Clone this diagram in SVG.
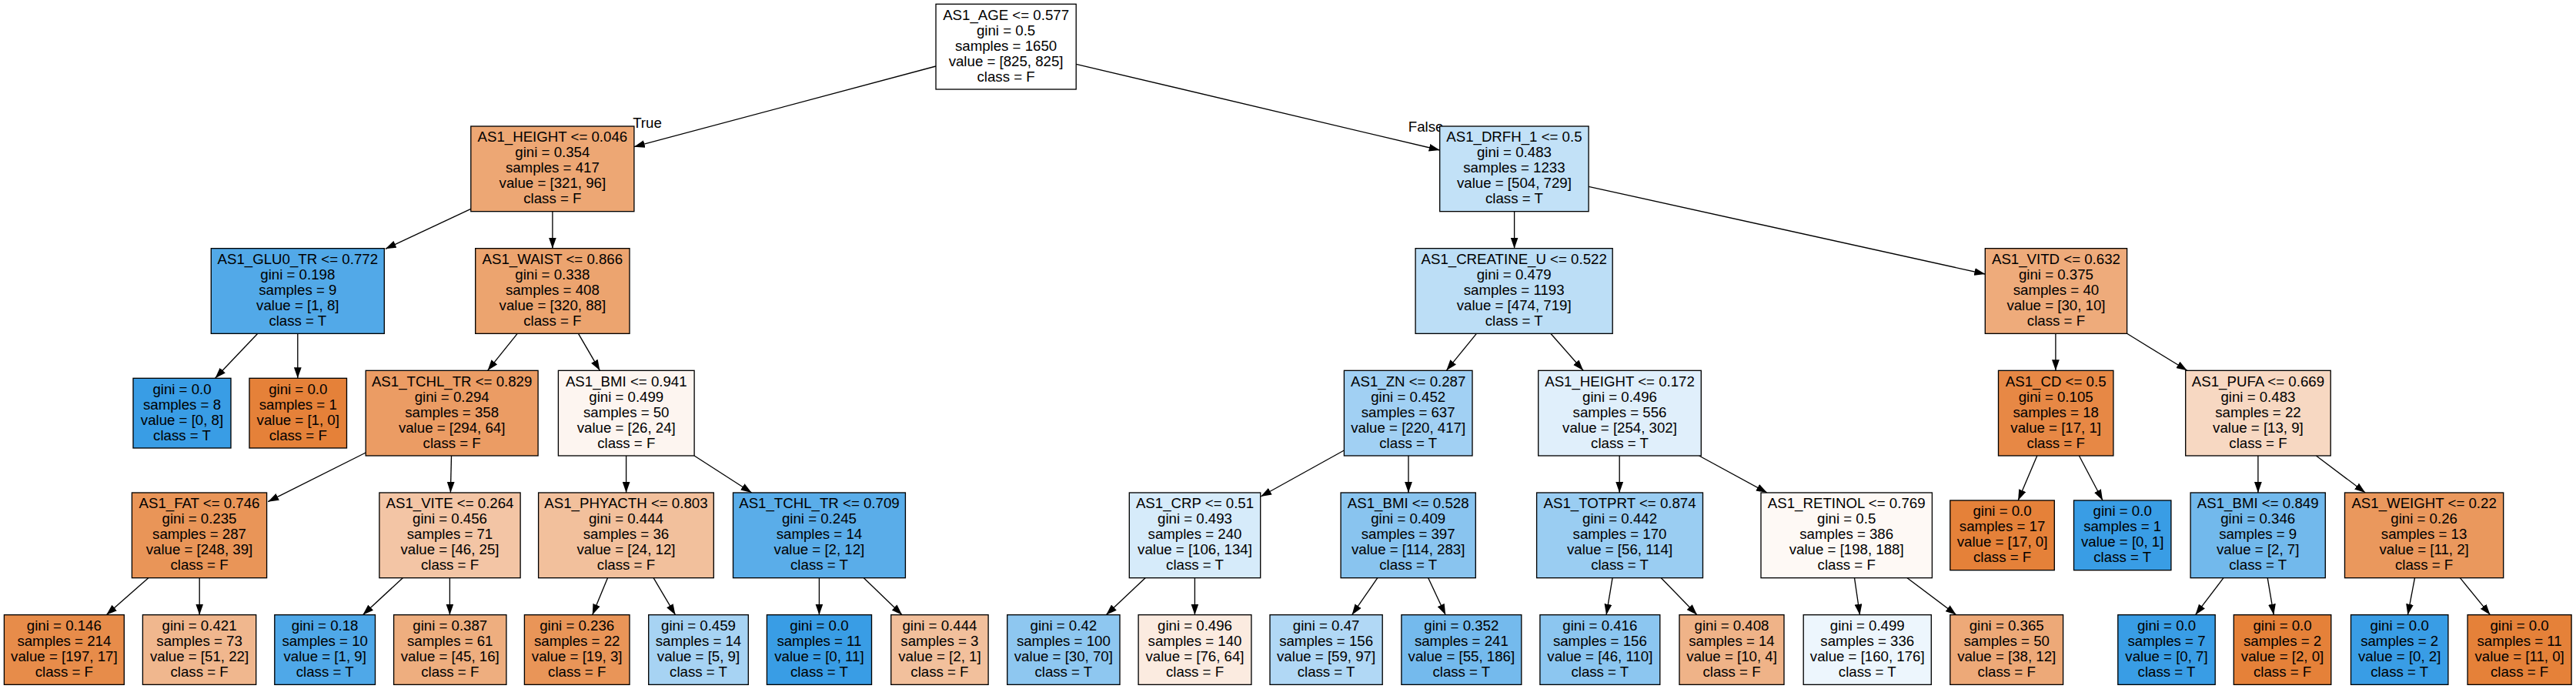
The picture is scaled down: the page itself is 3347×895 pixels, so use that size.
<svg xmlns="http://www.w3.org/2000/svg" width="3347" height="895" viewBox="0 0 3347 895">
<style>
.n rect{stroke:#000;stroke-width:1.33}
text{font-family:"Liberation Sans",Arial,Helvetica,sans-serif;font-size:18.67px;text-anchor:middle;fill:#000}
.e line{stroke:#000;stroke-width:1.33;marker-end:url(#a)}
</style>
<defs>
<marker id="a" markerUnits="userSpaceOnUse" markerWidth="14" markerHeight="10" viewBox="0 0 13.33 9.33" refX="13.33" refY="4.67" orient="auto"><path d="M0,0 L13.33,4.67 L0,9.33 z" fill="#000"/></marker>
</defs>
<rect width="3347" height="895" fill="#fff"/>
<g class="e" id="edges">
<line x1="1216" y1="86" x2="823.8" y2="190.7"/>
<line x1="1398.2" y1="83.3" x2="1870.7" y2="195"/>
<line x1="611.8" y1="271.3" x2="500.8" y2="323.3"/>
<line x1="717.9" y1="274.7" x2="717.9" y2="322.7"/>
<line x1="334.8" y1="433.3" x2="279.6" y2="491.3"/>
<line x1="386.8" y1="433.3" x2="386.8" y2="491.3"/>
<line x1="672.2" y1="433.3" x2="633.6" y2="481.3"/>
<line x1="751.5" y1="433.3" x2="779.4" y2="481.3"/>
<line x1="475.2" y1="588" x2="348.2" y2="651.7"/>
<line x1="586.5" y1="592" x2="585.4" y2="640"/>
<line x1="813.6" y1="592" x2="813.6" y2="640"/>
<line x1="902.1" y1="592" x2="976.6" y2="640"/>
<line x1="192.8" y1="750.7" x2="138.2" y2="798.7"/>
<line x1="259.2" y1="750.7" x2="259.2" y2="798.7"/>
<line x1="523.3" y1="750.7" x2="471.4" y2="798.7"/>
<line x1="584.4" y1="750.7" x2="584.4" y2="798.7"/>
<line x1="789.5" y1="750.7" x2="769.7" y2="798.7"/>
<line x1="849.1" y1="750.7" x2="877.5" y2="798.7"/>
<line x1="1064.4" y1="750.7" x2="1064.4" y2="798.7"/>
<line x1="1122.3" y1="750.7" x2="1172.1" y2="798.7"/>
<line x1="1967.6" y1="274.7" x2="1967.6" y2="322.7"/>
<line x1="2064.1" y1="242.3" x2="2579.3" y2="356"/>
<line x1="1918.4" y1="433.3" x2="1879.3" y2="481.3"/>
<line x1="2014.8" y1="433.3" x2="2057.1" y2="481.3"/>
<line x1="1746.4" y1="585" x2="1638.1" y2="645"/>
<line x1="1830" y1="592" x2="1830" y2="640"/>
<line x1="2104.2" y1="592" x2="2104.2" y2="640"/>
<line x1="2207.6" y1="592" x2="2296" y2="640"/>
<line x1="1488.1" y1="750.7" x2="1437.2" y2="798.7"/>
<line x1="1552.4" y1="750.7" x2="1552.4" y2="798.7"/>
<line x1="1789.8" y1="750.7" x2="1756.6" y2="798.7"/>
<line x1="1855.7" y1="750.7" x2="1878.2" y2="798.7"/>
<line x1="2095.1" y1="750.7" x2="2087.1" y2="798.7"/>
<line x1="2158.3" y1="750.7" x2="2205" y2="798.7"/>
<line x1="2409.5" y1="750.7" x2="2416.5" y2="798.7"/>
<line x1="2478" y1="750.7" x2="2541.8" y2="798.7"/>
<line x1="2670.9" y1="433.3" x2="2670.9" y2="481.3"/>
<line x1="2763.6" y1="433.3" x2="2841.8" y2="481.3"/>
<line x1="2646.8" y1="592" x2="2622.2" y2="650"/>
<line x1="2701.4" y1="592" x2="2732" y2="650"/>
<line x1="2933.9" y1="592" x2="2933.9" y2="640"/>
<line x1="3009.4" y1="592" x2="3073.2" y2="640"/>
<line x1="2889" y1="750.7" x2="2852.5" y2="798.7"/>
<line x1="2946.2" y1="750.7" x2="2954.3" y2="798.7"/>
<line x1="3137.5" y1="750.7" x2="3128.4" y2="798.7"/>
<line x1="3196.4" y1="750.7" x2="3235.5" y2="798.7"/>
<text x="841" y="166">True</text>
<text x="1852.6" y="171">False</text>
</g>
<g class="n" id="n0"><rect x="1216" y="5.33" width="182.2" height="110.67" fill="#ffffff"/><text x="1307.1" y="25.6"><tspan x="1307.1">AS1_AGE &lt;= 0.577</tspan><tspan x="1307.1" dy="20">gini = 0.5</tspan><tspan x="1307.1" dy="20">samples = 1650</tspan><tspan x="1307.1" dy="20">value = [825, 825]</tspan><tspan x="1307.1" dy="20">class = F</tspan></text></g>
<g class="n" id="n1"><rect x="611.8" y="164" width="212.1" height="110.67" fill="#eda774"/><text x="717.85" y="184.27"><tspan x="717.85">AS1_HEIGHT &lt;= 0.046</tspan><tspan x="717.85" dy="20">gini = 0.354</tspan><tspan x="717.85" dy="20">samples = 417</tspan><tspan x="717.85" dy="20">value = [321, 96]</tspan><tspan x="717.85" dy="20">class = F</tspan></text></g>
<g class="n" id="n2"><rect x="274.3" y="322.67" width="225" height="110.67" fill="#52a9e8"/><text x="386.8" y="342.93"><tspan x="386.8">AS1_GLU0_TR &lt;= 0.772</tspan><tspan x="386.8" dy="20">gini = 0.198</tspan><tspan x="386.8" dy="20">samples = 9</tspan><tspan x="386.8" dy="20">value = [1, 8]</tspan><tspan x="386.8" dy="20">class = T</tspan></text></g>
<g class="n" id="n3"><rect x="173" y="491.33" width="127" height="90.67" fill="#399de5"/><text x="236.5" y="511.6"><tspan x="236.5">gini = 0.0</tspan><tspan x="236.5" dy="20">samples = 8</tspan><tspan x="236.5" dy="20">value = [0, 8]</tspan><tspan x="236.5" dy="20">class = T</tspan></text></g>
<g class="n" id="n4"><rect x="324" y="491.33" width="126.5" height="90.67" fill="#e58139"/><text x="387.25" y="511.6"><tspan x="387.25">gini = 0.0</tspan><tspan x="387.25" dy="20">samples = 1</tspan><tspan x="387.25" dy="20">value = [1, 0]</tspan><tspan x="387.25" dy="20">class = F</tspan></text></g>
<g class="n" id="n5"><rect x="617.7" y="322.67" width="200.3" height="110.67" fill="#eca46f"/><text x="717.85" y="342.93"><tspan x="717.85">AS1_WAIST &lt;= 0.866</tspan><tspan x="717.85" dy="20">gini = 0.338</tspan><tspan x="717.85" dy="20">samples = 408</tspan><tspan x="717.85" dy="20">value = [320, 88]</tspan><tspan x="717.85" dy="20">class = F</tspan></text></g>
<g class="n" id="n6"><rect x="475.2" y="481.33" width="223.9" height="110.67" fill="#eb9c64"/><text x="587.15" y="501.6"><tspan x="587.15">AS1_TCHL_TR &lt;= 0.829</tspan><tspan x="587.15" dy="20">gini = 0.294</tspan><tspan x="587.15" dy="20">samples = 358</tspan><tspan x="587.15" dy="20">value = [294, 64]</tspan><tspan x="587.15" dy="20">class = F</tspan></text></g>
<g class="n" id="n7"><rect x="171.4" y="640" width="175.2" height="110.67" fill="#e99558"/><text x="259" y="660.27"><tspan x="259">AS1_FAT &lt;= 0.746</tspan><tspan x="259" dy="20">gini = 0.235</tspan><tspan x="259" dy="20">samples = 287</tspan><tspan x="259" dy="20">value = [248, 39]</tspan><tspan x="259" dy="20">class = F</tspan></text></g>
<g class="n" id="n8"><rect x="5.4" y="798.67" width="155.9" height="90.67" fill="#e78c4a"/><text x="83.35" y="818.93"><tspan x="83.35">gini = 0.146</tspan><tspan x="83.35" dy="20">samples = 214</tspan><tspan x="83.35" dy="20">value = [197, 17]</tspan><tspan x="83.35" dy="20">class = F</tspan></text></g>
<g class="n" id="n9"><rect x="185.4" y="798.67" width="147.3" height="90.67" fill="#f0b78e"/><text x="259.05" y="818.93"><tspan x="259.05">gini = 0.421</tspan><tspan x="259.05" dy="20">samples = 73</tspan><tspan x="259.05" dy="20">value = [51, 22]</tspan><tspan x="259.05" dy="20">class = F</tspan></text></g>
<g class="n" id="n10"><rect x="492.9" y="640" width="183.2" height="110.67" fill="#f3c5a5"/><text x="584.5" y="660.27"><tspan x="584.5">AS1_VITE &lt;= 0.264</tspan><tspan x="584.5" dy="20">gini = 0.456</tspan><tspan x="584.5" dy="20">samples = 71</tspan><tspan x="584.5" dy="20">value = [46, 25]</tspan><tspan x="584.5" dy="20">class = F</tspan></text></g>
<g class="n" id="n11"><rect x="356.8" y="798.67" width="130.7" height="90.67" fill="#4fa8e8"/><text x="422.15" y="818.93"><tspan x="422.15">gini = 0.18</tspan><tspan x="422.15" dy="20">samples = 10</tspan><tspan x="422.15" dy="20">value = [1, 9]</tspan><tspan x="422.15" dy="20">class = T</tspan></text></g>
<g class="n" id="n12"><rect x="511.6" y="798.67" width="146.3" height="90.67" fill="#eeae7f"/><text x="584.75" y="818.93"><tspan x="584.75">gini = 0.387</tspan><tspan x="584.75" dy="20">samples = 61</tspan><tspan x="584.75" dy="20">value = [45, 16]</tspan><tspan x="584.75" dy="20">class = F</tspan></text></g>
<g class="n" id="n13"><rect x="725.4" y="481.33" width="176.7" height="110.67" fill="#fdf5f0"/><text x="813.75" y="501.6"><tspan x="813.75">AS1_BMI &lt;= 0.941</tspan><tspan x="813.75" dy="20">gini = 0.499</tspan><tspan x="813.75" dy="20">samples = 50</tspan><tspan x="813.75" dy="20">value = [26, 24]</tspan><tspan x="813.75" dy="20">class = F</tspan></text></g>
<g class="n" id="n14"><rect x="699.6" y="640" width="227.7" height="110.67" fill="#f2c09c"/><text x="813.45" y="660.27"><tspan x="813.45">AS1_PHYACTH &lt;= 0.803</tspan><tspan x="813.45" dy="20">gini = 0.444</tspan><tspan x="813.45" dy="20">samples = 36</tspan><tspan x="813.45" dy="20">value = [24, 12]</tspan><tspan x="813.45" dy="20">class = F</tspan></text></g>
<g class="n" id="n15"><rect x="681.4" y="798.67" width="136.6" height="90.67" fill="#e99558"/><text x="749.7" y="818.93"><tspan x="749.7">gini = 0.236</tspan><tspan x="749.7" dy="20">samples = 22</tspan><tspan x="749.7" dy="20">value = [19, 3]</tspan><tspan x="749.7" dy="20">class = F</tspan></text></g>
<g class="n" id="n16"><rect x="842.7" y="798.67" width="129.6" height="90.67" fill="#a7d3f3"/><text x="907.5" y="818.93"><tspan x="907.5">gini = 0.459</tspan><tspan x="907.5" dy="20">samples = 14</tspan><tspan x="907.5" dy="20">value = [5, 9]</tspan><tspan x="907.5" dy="20">class = T</tspan></text></g>
<g class="n" id="n17"><rect x="952.5" y="640" width="223.9" height="110.67" fill="#5aade9"/><text x="1064.45" y="660.27"><tspan x="1064.45">AS1_TCHL_TR &lt;= 0.709</tspan><tspan x="1064.45" dy="20">gini = 0.245</tspan><tspan x="1064.45" dy="20">samples = 14</tspan><tspan x="1064.45" dy="20">value = [2, 12]</tspan><tspan x="1064.45" dy="20">class = T</tspan></text></g>
<g class="n" id="n18"><rect x="996.4" y="798.67" width="136.1" height="90.67" fill="#399de5"/><text x="1064.45" y="818.93"><tspan x="1064.45">gini = 0.0</tspan><tspan x="1064.45" dy="20">samples = 11</tspan><tspan x="1064.45" dy="20">value = [0, 11]</tspan><tspan x="1064.45" dy="20">class = T</tspan></text></g>
<g class="n" id="n19"><rect x="1157.7" y="798.67" width="126.4" height="90.67" fill="#f2c09c"/><text x="1220.9" y="818.93"><tspan x="1220.9">gini = 0.444</tspan><tspan x="1220.9" dy="20">samples = 3</tspan><tspan x="1220.9" dy="20">value = [2, 1]</tspan><tspan x="1220.9" dy="20">class = F</tspan></text></g>
<g class="n" id="n20"><rect x="1870.7" y="164" width="193.4" height="110.67" fill="#c2e1f7"/><text x="1967.4" y="184.27"><tspan x="1967.4">AS1_DRFH_1 &lt;= 0.5</tspan><tspan x="1967.4" dy="20">gini = 0.483</tspan><tspan x="1967.4" dy="20">samples = 1233</tspan><tspan x="1967.4" dy="20">value = [504, 729]</tspan><tspan x="1967.4" dy="20">class = T</tspan></text></g>
<g class="n" id="n21"><rect x="1839.1" y="322.67" width="256.1" height="110.67" fill="#bcdef6"/><text x="1967.15" y="342.93"><tspan x="1967.15">AS1_CREATINE_U &lt;= 0.522</tspan><tspan x="1967.15" dy="20">gini = 0.479</tspan><tspan x="1967.15" dy="20">samples = 1193</tspan><tspan x="1967.15" dy="20">value = [474, 719]</tspan><tspan x="1967.15" dy="20">class = T</tspan></text></g>
<g class="n" id="n22"><rect x="1746.4" y="481.33" width="166.6" height="110.67" fill="#a1d0f3"/><text x="1829.7" y="501.6"><tspan x="1829.7">AS1_ZN &lt;= 0.287</tspan><tspan x="1829.7" dy="20">gini = 0.452</tspan><tspan x="1829.7" dy="20">samples = 637</tspan><tspan x="1829.7" dy="20">value = [220, 417]</tspan><tspan x="1829.7" dy="20">class = T</tspan></text></g>
<g class="n" id="n23"><rect x="1467.3" y="640" width="170.4" height="110.67" fill="#d6ebfa"/><text x="1552.5" y="660.27"><tspan x="1552.5">AS1_CRP &lt;= 0.51</tspan><tspan x="1552.5" dy="20">gini = 0.493</tspan><tspan x="1552.5" dy="20">samples = 240</tspan><tspan x="1552.5" dy="20">value = [106, 134]</tspan><tspan x="1552.5" dy="20">class = T</tspan></text></g>
<g class="n" id="n24"><rect x="1308.7" y="798.67" width="146.3" height="90.67" fill="#8ec7f0"/><text x="1381.85" y="818.93"><tspan x="1381.85">gini = 0.42</tspan><tspan x="1381.85" dy="20">samples = 100</tspan><tspan x="1381.85" dy="20">value = [30, 70]</tspan><tspan x="1381.85" dy="20">class = T</tspan></text></g>
<g class="n" id="n25"><rect x="1479.1" y="798.67" width="146.8" height="90.67" fill="#fbebe0"/><text x="1552.5" y="818.93"><tspan x="1552.5">gini = 0.496</tspan><tspan x="1552.5" dy="20">samples = 140</tspan><tspan x="1552.5" dy="20">value = [76, 64]</tspan><tspan x="1552.5" dy="20">class = F</tspan></text></g>
<g class="n" id="n26"><rect x="1742.1" y="640" width="175.2" height="110.67" fill="#89c4ef"/><text x="1829.7" y="660.27"><tspan x="1829.7">AS1_BMI &lt;= 0.528</tspan><tspan x="1829.7" dy="20">gini = 0.409</tspan><tspan x="1829.7" dy="20">samples = 397</tspan><tspan x="1829.7" dy="20">value = [114, 283]</tspan><tspan x="1829.7" dy="20">class = T</tspan></text></g>
<g class="n" id="n27"><rect x="1650" y="798.67" width="146.2" height="90.67" fill="#b1d8f5"/><text x="1723.1" y="818.93"><tspan x="1723.1">gini = 0.47</tspan><tspan x="1723.1" dy="20">samples = 156</tspan><tspan x="1723.1" dy="20">value = [59, 97]</tspan><tspan x="1723.1" dy="20">class = T</tspan></text></g>
<g class="n" id="n28"><rect x="1820.9" y="798.67" width="155.9" height="90.67" fill="#74baed"/><text x="1898.85" y="818.93"><tspan x="1898.85">gini = 0.352</tspan><tspan x="1898.85" dy="20">samples = 241</tspan><tspan x="1898.85" dy="20">value = [55, 186]</tspan><tspan x="1898.85" dy="20">class = T</tspan></text></g>
<g class="n" id="n29"><rect x="1998.7" y="481.33" width="211.6" height="110.67" fill="#e0effb"/><text x="2104.5" y="501.6"><tspan x="2104.5">AS1_HEIGHT &lt;= 0.172</tspan><tspan x="2104.5" dy="20">gini = 0.496</tspan><tspan x="2104.5" dy="20">samples = 556</tspan><tspan x="2104.5" dy="20">value = [254, 302]</tspan><tspan x="2104.5" dy="20">class = T</tspan></text></g>
<g class="n" id="n30"><rect x="1996.6" y="640" width="215.9" height="110.67" fill="#9acdf2"/><text x="2104.55" y="660.27"><tspan x="2104.55">AS1_TOTPRT &lt;= 0.874</tspan><tspan x="2104.55" dy="20">gini = 0.442</tspan><tspan x="2104.55" dy="20">samples = 170</tspan><tspan x="2104.55" dy="20">value = [56, 114]</tspan><tspan x="2104.55" dy="20">class = T</tspan></text></g>
<g class="n" id="n31"><rect x="2000.9" y="798.67" width="155.9" height="90.67" fill="#8cc6f0"/><text x="2078.85" y="818.93"><tspan x="2078.85">gini = 0.416</tspan><tspan x="2078.85" dy="20">samples = 156</tspan><tspan x="2078.85" dy="20">value = [46, 110]</tspan><tspan x="2078.85" dy="20">class = T</tspan></text></g>
<g class="n" id="n32"><rect x="2182" y="798.67" width="136" height="90.67" fill="#efb388"/><text x="2250" y="818.93"><tspan x="2250">gini = 0.408</tspan><tspan x="2250" dy="20">samples = 14</tspan><tspan x="2250" dy="20">value = [10, 4]</tspan><tspan x="2250" dy="20">class = F</tspan></text></g>
<g class="n" id="n33"><rect x="2288" y="640" width="222.4" height="110.67" fill="#fef9f5"/><text x="2399.2" y="660.27"><tspan x="2399.2">AS1_RETINOL &lt;= 0.769</tspan><tspan x="2399.2" dy="20">gini = 0.5</tspan><tspan x="2399.2" dy="20">samples = 386</tspan><tspan x="2399.2" dy="20">value = [198, 188]</tspan><tspan x="2399.2" dy="20">class = F</tspan></text></g>
<g class="n" id="n34"><rect x="2343.2" y="798.67" width="166.1" height="90.67" fill="#edf6fd"/><text x="2426.25" y="818.93"><tspan x="2426.25">gini = 0.499</tspan><tspan x="2426.25" dy="20">samples = 336</tspan><tspan x="2426.25" dy="20">value = [160, 176]</tspan><tspan x="2426.25" dy="20">class = T</tspan></text></g>
<g class="n" id="n35"><rect x="2533.8" y="798.67" width="146.8" height="90.67" fill="#eda978"/><text x="2607.2" y="818.93"><tspan x="2607.2">gini = 0.365</tspan><tspan x="2607.2" dy="20">samples = 50</tspan><tspan x="2607.2" dy="20">value = [38, 12]</tspan><tspan x="2607.2" dy="20">class = F</tspan></text></g>
<g class="n" id="n36"><rect x="2579.3" y="322.67" width="184.3" height="110.67" fill="#eeab7b"/><text x="2671.45" y="342.93"><tspan x="2671.45">AS1_VITD &lt;= 0.632</tspan><tspan x="2671.45" dy="20">gini = 0.375</tspan><tspan x="2671.45" dy="20">samples = 40</tspan><tspan x="2671.45" dy="20">value = [30, 10]</tspan><tspan x="2671.45" dy="20">class = F</tspan></text></g>
<g class="n" id="n37"><rect x="2596.5" y="481.33" width="149.4" height="110.67" fill="#e78845"/><text x="2671.2" y="501.6"><tspan x="2671.2">AS1_CD &lt;= 0.5</tspan><tspan x="2671.2" dy="20">gini = 0.105</tspan><tspan x="2671.2" dy="20">samples = 18</tspan><tspan x="2671.2" dy="20">value = [17, 1]</tspan><tspan x="2671.2" dy="20">class = F</tspan></text></g>
<g class="n" id="n38"><rect x="2533.8" y="650" width="135.5" height="90.67" fill="#e58139"/><text x="2601.55" y="670.27"><tspan x="2601.55">gini = 0.0</tspan><tspan x="2601.55" dy="20">samples = 17</tspan><tspan x="2601.55" dy="20">value = [17, 0]</tspan><tspan x="2601.55" dy="20">class = F</tspan></text></g>
<g class="n" id="n39"><rect x="2694.5" y="650" width="126.4" height="90.67" fill="#399de5"/><text x="2757.7" y="670.27"><tspan x="2757.7">gini = 0.0</tspan><tspan x="2757.7" dy="20">samples = 1</tspan><tspan x="2757.7" dy="20">value = [0, 1]</tspan><tspan x="2757.7" dy="20">class = T</tspan></text></g>
<g class="n" id="n40"><rect x="2839.7" y="481.33" width="188.5" height="110.67" fill="#f7d8c2"/><text x="2933.95" y="501.6"><tspan x="2933.95">AS1_PUFA &lt;= 0.669</tspan><tspan x="2933.95" dy="20">gini = 0.483</tspan><tspan x="2933.95" dy="20">samples = 22</tspan><tspan x="2933.95" dy="20">value = [13, 9]</tspan><tspan x="2933.95" dy="20">class = F</tspan></text></g>
<g class="n" id="n41"><rect x="2846.1" y="640" width="175.2" height="110.67" fill="#72b9ec"/><text x="2933.7" y="660.27"><tspan x="2933.7">AS1_BMI &lt;= 0.849</tspan><tspan x="2933.7" dy="20">gini = 0.346</tspan><tspan x="2933.7" dy="20">samples = 9</tspan><tspan x="2933.7" dy="20">value = [2, 7]</tspan><tspan x="2933.7" dy="20">class = T</tspan></text></g>
<g class="n" id="n42"><rect x="2751.8" y="798.67" width="126.4" height="90.67" fill="#399de5"/><text x="2815" y="818.93"><tspan x="2815">gini = 0.0</tspan><tspan x="2815" dy="20">samples = 7</tspan><tspan x="2815" dy="20">value = [0, 7]</tspan><tspan x="2815" dy="20">class = T</tspan></text></g>
<g class="n" id="n43"><rect x="2902.3" y="798.67" width="126.5" height="90.67" fill="#e58139"/><text x="2965.55" y="818.93"><tspan x="2965.55">gini = 0.0</tspan><tspan x="2965.55" dy="20">samples = 2</tspan><tspan x="2965.55" dy="20">value = [2, 0]</tspan><tspan x="2965.55" dy="20">class = F</tspan></text></g>
<g class="n" id="n44"><rect x="3046.5" y="640" width="206.2" height="110.67" fill="#ea985d"/><text x="3149.6" y="660.27"><tspan x="3149.6">AS1_WEIGHT &lt;= 0.22</tspan><tspan x="3149.6" dy="20">gini = 0.26</tspan><tspan x="3149.6" dy="20">samples = 13</tspan><tspan x="3149.6" dy="20">value = [11, 2]</tspan><tspan x="3149.6" dy="20">class = F</tspan></text></g>
<g class="n" id="n45"><rect x="3054.5" y="798.67" width="126.4" height="90.67" fill="#399de5"/><text x="3117.7" y="818.93"><tspan x="3117.7">gini = 0.0</tspan><tspan x="3117.7" dy="20">samples = 2</tspan><tspan x="3117.7" dy="20">value = [0, 2]</tspan><tspan x="3117.7" dy="20">class = T</tspan></text></g>
<g class="n" id="n46"><rect x="3206.1" y="798.67" width="135" height="90.67" fill="#e58139"/><text x="3273.6" y="818.93"><tspan x="3273.6">gini = 0.0</tspan><tspan x="3273.6" dy="20">samples = 11</tspan><tspan x="3273.6" dy="20">value = [11, 0]</tspan><tspan x="3273.6" dy="20">class = F</tspan></text></g>
</svg>
